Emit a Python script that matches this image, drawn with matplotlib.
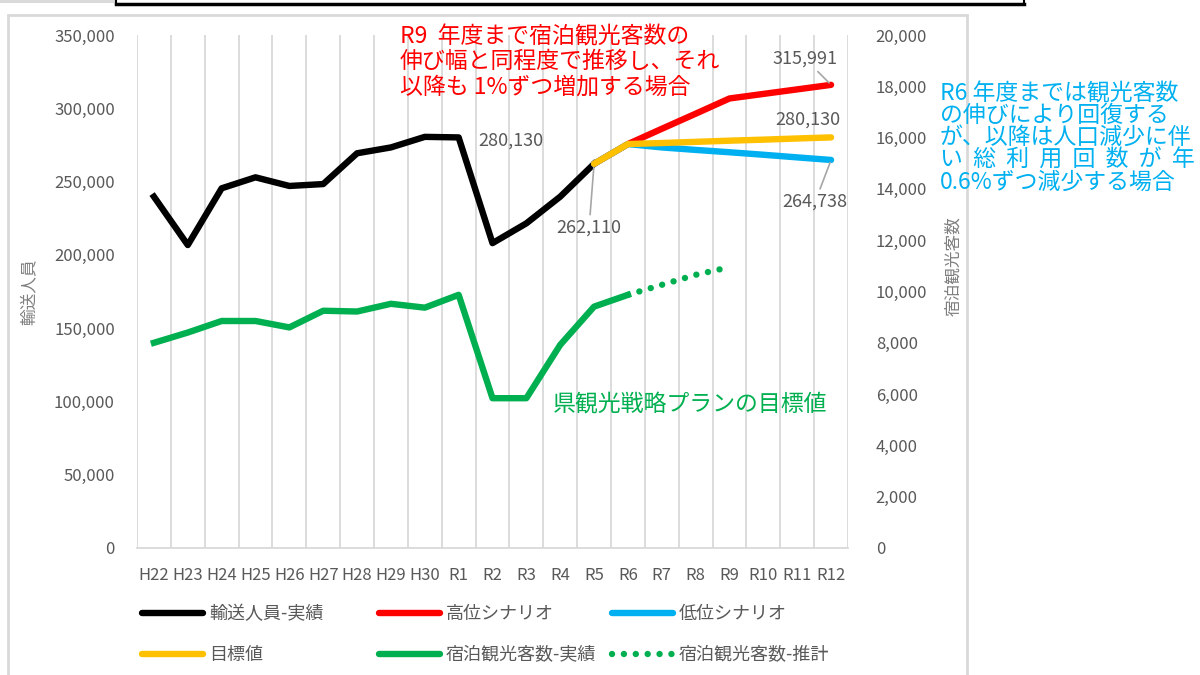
import numpy as np
import matplotlib.pyplot as plt
from matplotlib.lines import Line2D
from matplotlib.patches import Rectangle

plt.rcParams['font.family'] = ['Noto Sans CJK JP', 'DejaVu Sans']

# categories (fiscal years)
years = ['H22', 'H23', 'H24', 'H25', 'H26', 'H27', 'H28', 'H29', 'H30',
         'R1', 'R2', 'R3', 'R4', 'R5', 'R6', 'R7', 'R8', 'R9', 'R10', 'R11', 'R12']

# 輸送人員-実績 (H22..R5)
passengers = [239700, 206700, 245400, 252900, 247000, 248300, 269300, 273300,
              280500, 280130, 208000, 221500, 239700, 262110]
# scenarios (R5..R12)
high = [262110, 275600, 286000, 296300, 306700, 309800, 312900, 315991]
low = [262110, 275600, 273300, 271600, 270000, 268300, 266500, 264738]
target = [262110, 275600, 276300, 277100, 277900, 278600, 279400, 280130]
# 宿泊観光客数 (right axis) actual H22..R6, estimate R6..R9
guests = [8000, 8400, 8850, 8850, 8600, 9250, 9220, 9520, 9370, 9870,
          5840, 5840, 7920, 9410, 9870]
guests_est = [9870, 10260, 10650, 10950]

x = np.arange(len(years))
x_act = x[:len(passengers)]
x_scn = x[len(passengers) - 1:]
x_g = x[:len(guests)]
x_ge = x[len(guests) - 1:len(guests) - 1 + len(guests_est)]

W, H = 1200, 675
fig = plt.figure(figsize=(12, 6.75), dpi=100)
ax = fig.add_axes([137 / W, 1 - 548 / H, 711 / W, 513 / H])
ax2 = ax.twinx()

gray_txt = '#595959'
lw = 4.6
dots = (0, (0.01, 1.85))

ax.plot(x_act, passengers, color='black', lw=lw, solid_joinstyle='round', zorder=3)
ax.plot(x_scn, high, color='#ff0000', lw=lw, solid_capstyle='round', zorder=3)
ax.plot(x_scn, low, color='#00b0f0', lw=lw, solid_capstyle='round', zorder=3)
ax.plot(x_scn, target, color='#ffc000', lw=lw, solid_capstyle='round', zorder=4)

ax2.plot(x_g, guests, color='#00b050', lw=lw, solid_joinstyle='round', zorder=3)
ax2.plot(x_ge, guests_est, color='#00b050', lw=lw, linestyle=dots,
         dash_capstyle='round', zorder=3)

ax.set_xlim(-0.5, len(years) - 0.5)
ax.set_ylim(0, 350000)
ax2.set_ylim(0, 20000)
ax.set_yticks(np.arange(0, 350001, 50000))
ax2.set_yticks(np.arange(0, 20001, 2000))
ax.yaxis.set_major_formatter(plt.FuncFormatter(lambda v, p: f'{v:,.0f}'))
ax2.yaxis.set_major_formatter(plt.FuncFormatter(lambda v, p: f'{v:,.0f}'))
ax.set_xticks(x)
ax.set_xticklabels(years)

# vertical gridlines between categories
for b in np.arange(-0.5, len(years), 1.0):
    ax.axvline(b, color='#d9d9d9', lw=1.3, zorder=0)

for a in (ax, ax2):
    for s in a.spines.values():
        s.set_visible(False)
    a.tick_params(length=0, colors=gray_txt, labelsize=12)
ax.spines['bottom'].set_visible(True)
ax.spines['bottom'].set_color('#d9d9d9')
ax.spines['bottom'].set_linewidth(1.3)
ax.tick_params(axis='y', pad=16)
ax.tick_params(axis='x', pad=14)
ax2.tick_params(axis='y', pad=20)

ax.set_ylabel('輸送人員', color='#7f7f7f', fontsize=12, labelpad=12)
ax2.set_ylabel('宿泊観光客数', color='#7f7f7f', fontsize=12)
ax2.yaxis.set_label_coords(1.137, 0.55)

# data labels
lab = dict(color=gray_txt, fontsize=13, ha='center', va='center',
           textcoords='offset pixels')
leader = dict(arrowstyle='-', color='#a6a6a6', lw=1.2, shrinkA=1, shrinkB=2)
i_r1 = years.index('R1')
ax.annotate(f'{passengers[i_r1]:,}', (x[i_r1], passengers[i_r1]), xytext=(52, -3), **lab)
ax.annotate(f'{passengers[-1]:,}', (x_act[-1], passengers[-1]), xytext=(-5, -64),
            arrowprops=leader, **lab)
ax.annotate(f'{high[-1]:,}', (x_scn[-1], high[-1]), xytext=(-26, 26),
            arrowprops=leader, **lab)
ax.annotate(f'{target[-1]:,}', (x_scn[-1], target[-1]), xytext=(-23, 18), **lab)
ax.annotate(f'{low[-1]:,}', (x_scn[-1], low[-1]), xytext=(-16, -42),
            arrowprops=leader, **lab)

# callout texts
fig.text(400 / W, 1 - 25 / H, 'R9  年度まで宿泊観光客数の\n伸び幅と同程度で推移し、それ\n以降も 1%ずつ増加する場合',
         color='#ff0000', fontsize=16.5, va='top', ha='left', linespacing=1.13)
fig.text(940 / W, 1 - 82 / H, 'R6 年度までは観光客数\nの伸びにより回復する\nが、以降は人口減少に伴\nい  総  利  用  回  数  が  年\n0.6%ずつ減少する場合',
         color='#00b0f0', fontsize=16.5, va='top', ha='left', linespacing=0.95)
fig.text(553 / W, 1 - 405 / H, '県観光戦略プランの目標値', color='#00b050',
         fontsize=16.5, va='center', ha='left')

# legend in three fixed columns
hdl = dict(lw=lw, solid_capstyle='round')
cols = [
    ([Line2D([], [], color='black', **hdl), Line2D([], [], color='#ffc000', **hdl)],
     ['輸送人員-実績', '目標値'], 142),
    ([Line2D([], [], color='#ff0000', **hdl), Line2D([], [], color='#00b050', **hdl)],
     ['高位シナリオ', '宿泊観光客数-実績'], 379),
    ([Line2D([], [], color='#00b0f0', **hdl),
      Line2D([], [], color='#00b050', lw=lw, linestyle=dots, dash_capstyle='round')],
     ['低位シナリオ', '宿泊観光客数-推計'], 612),
]
for h, l, px in cols:
    leg = fig.legend(h, l, loc='upper left', bbox_to_anchor=(px / W, 1 - 605 / H),
                     frameon=False, fontsize=13, handlelength=3.4, handletextpad=0.3,
                     labelspacing=1.3, borderaxespad=0, borderpad=0,
                     labelcolor=gray_txt)

# chart frame and top table border
fig.add_artist(Rectangle((8 / W, -0.05), 959 / W, 1.05 - 15 / H, transform=fig.transFigure,
                         fill=False, edgecolor='#d9d9d9', lw=2))
fig.add_artist(Rectangle((0, 1 - 3 / H), 116 / W, 3 / H, transform=fig.transFigure,
                         facecolor='#d9d9d9', edgecolor='none'))
fig.add_artist(Line2D([116 / W, 1024 / W], [1 - 3.5 / H, 1 - 3.5 / H], transform=fig.transFigure,
                      color='black', lw=2.5))
fig.add_artist(Line2D([116 / W, 116 / W], [1, 1 - 3.5 / H], transform=fig.transFigure,
                      color='black', lw=1.5))
fig.add_artist(Line2D([1024 / W, 1024 / W], [1, 1 - 3.5 / H], transform=fig.transFigure,
                      color='black', lw=1.5))

fig.savefig('out.png', dpi=100)
